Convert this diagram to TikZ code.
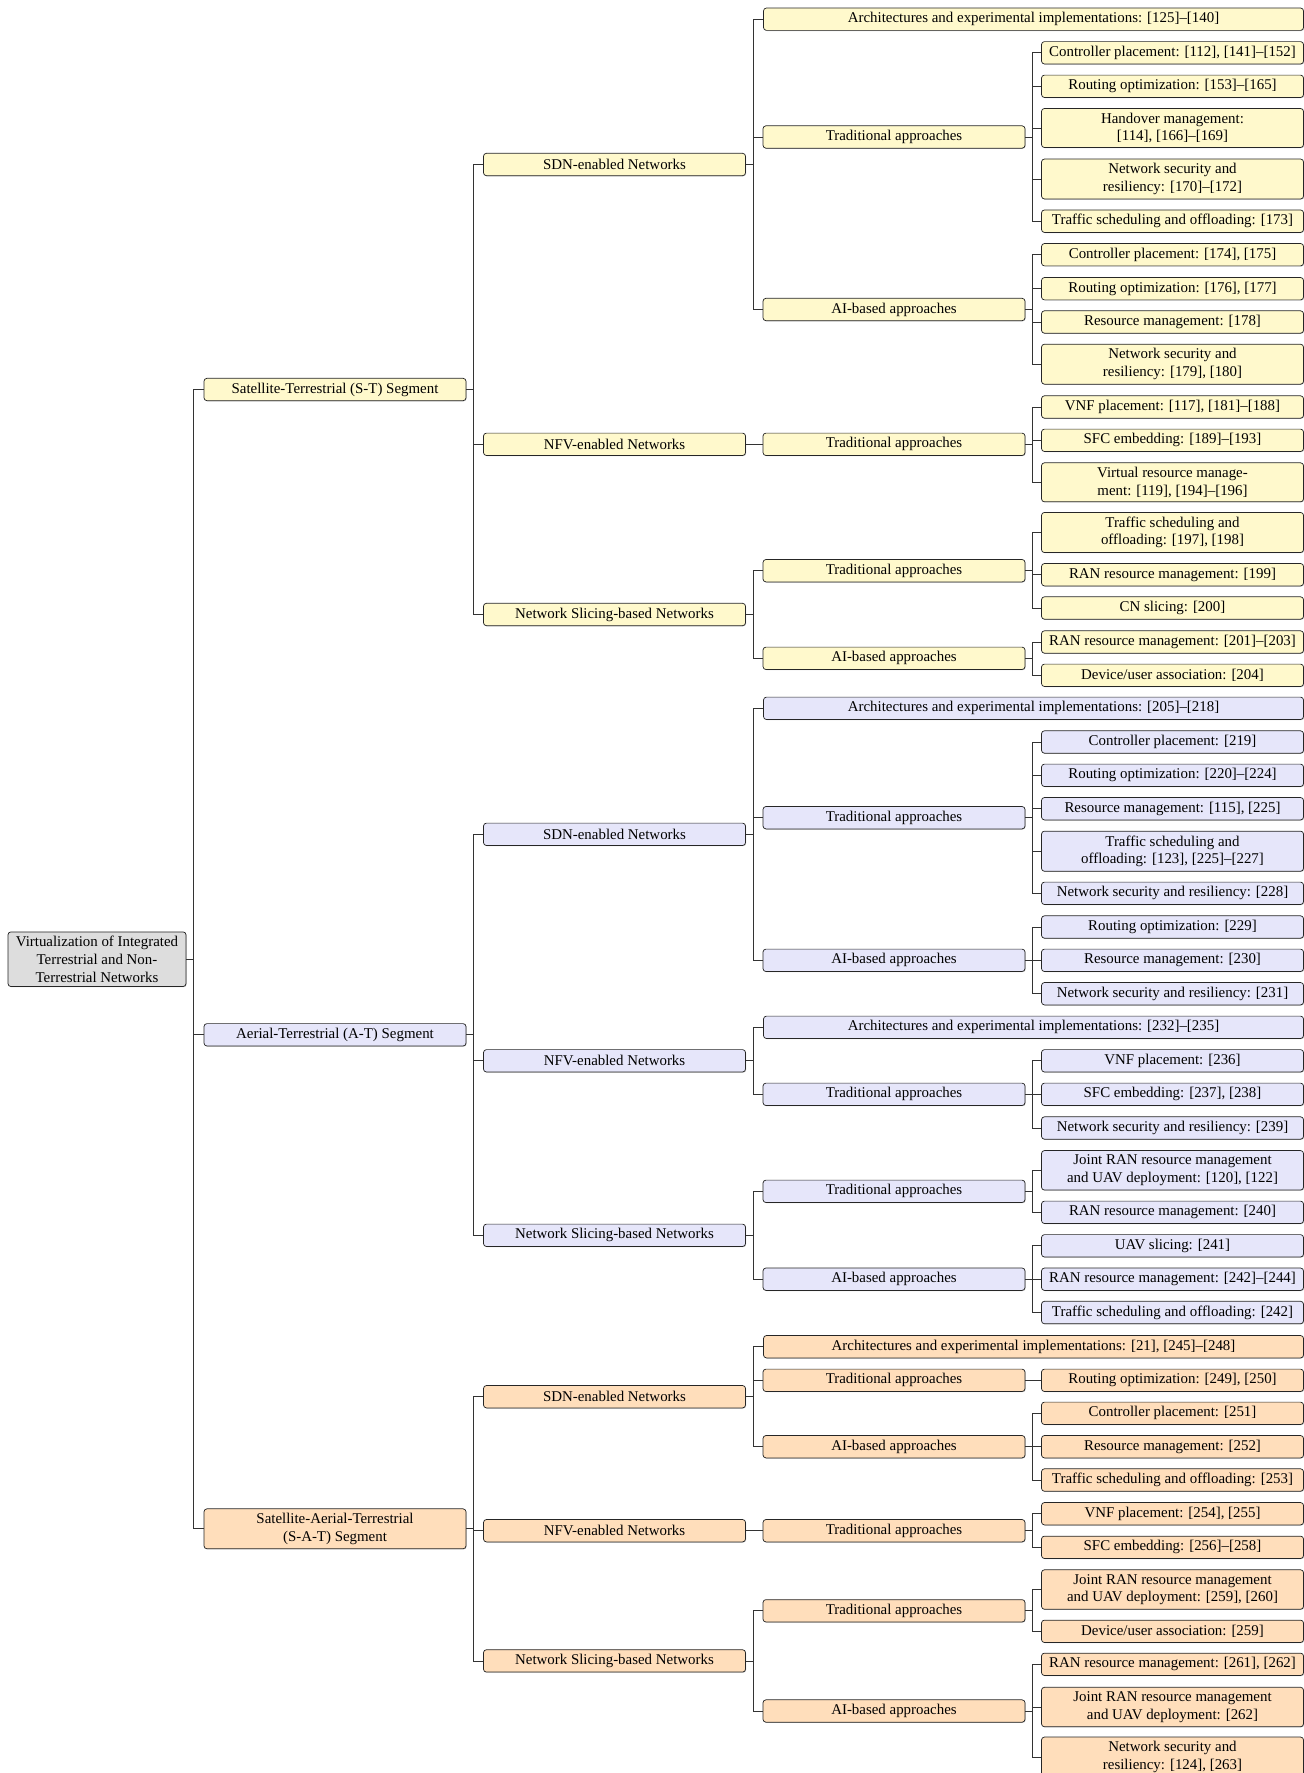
\documentclass[tikz,border=0pt]{standalone}
\usepackage{fontspec}
\setmainfont{Liberation Serif}
\usetikzlibrary{shadows}

\definecolor{rootfill}{RGB}{221,221,221}
\definecolor{stfill}{RGB}{255,249,204}
\definecolor{atfill}{RGB}{230,230,250}
\definecolor{satfill}{RGB}{255,222,187}

\begin{document}
\begin{tikzpicture}[x=0.55pt,y=-0.55pt,
    box/.style={draw=black!85,rounded corners=1.6pt,align=center,
      font=\fontsize{8.2}{9.7}\selectfont,inner xsep=2pt,inner ysep=2.4pt,
      minimum width=144.1pt,minimum height=12.3pt,
      drop shadow={shadow xshift=0.35pt,shadow yshift=-0.35pt,opacity=0.45}},
    rootbox/.style={box,fill=rootfill,minimum width=97.9pt},
    stbox/.style={box,fill=stfill},
    atbox/.style={box,fill=atfill},
    satbox/.style={box,fill=satfill},
    wide/.style={minimum width=297pt},
    link/.style={draw=black!80}]
  \useasboundingbox (0,0) rectangle (1304,1773);

  % root and segments
  \node[rootbox] (r) at (97,959.2) {Virtualization of Integrated\\Terrestrial and Non-\\Terrestrial Networks};
  \node[stbox] (st) at (335,389.5) {Satellite-Terrestrial (S-T) Segment};
  \node[atbox] (at) at (335,1034.8) {Aerial-Terrestrial (A-T) Segment};
  \node[satbox] (sat) at (335,1528.8) {Satellite-Aerial-Terrestrial\\(S-A-T) Segment};

  % S-T segment
  \node[stbox] (st-sdn) at (614.5,164.5) {SDN-enabled Networks};
  \node[stbox] (st-nfv) at (614.5,444.3) {NFV-enabled Networks};
  \node[stbox] (st-ns) at (614.5,614.5) {Network Slicing-based Networks};
  \node[stbox,wide] (st-sdn-arch) at (1033.5,19.2) {Architectures and experimental implementations: [125]--[140]};
  \node[stbox] (st-sdn-trad) at (894,137) {Traditional approaches};
  \node[stbox] (st-sdn-ai) at (894,309.5) {AI-based approaches};
  \node[stbox] (st-nfv-trad) at (894,444.3) {Traditional approaches};
  \node[stbox] (st-ns-trad) at (894,570.7) {Traditional approaches};
  \node[stbox] (st-ns-ai) at (894,658.3) {AI-based approaches};
  \node[stbox] (st-a1) at (1172.5,52.8) {Controller placement: [112], [141]--[152]};
  \node[stbox] (st-a2) at (1172.5,86.3) {Routing optimization: [153]--[165]};
  \node[stbox] (st-a3) at (1172.5,128) {Handover management:\\{}[114], [166]--[169]};
  \node[stbox] (st-a4) at (1172.5,179) {Network security and\\resiliency: [170]--[172]};
  \node[stbox] (st-a5) at (1172.5,221.2) {Traffic scheduling and offloading: [173]};
  \node[stbox] (st-b1) at (1172.5,254.7) {Controller placement: [174], [175]};
  \node[stbox] (st-b2) at (1172.5,288.7) {Routing optimization: [176], [177]};
  \node[stbox] (st-b3) at (1172.5,322) {Resource management: [178]};
  \node[stbox] (st-b4) at (1172.5,364.2) {Network security and\\resiliency: [179], [180]};
  \node[stbox] (st-c1) at (1172.5,407) {VNF placement: [117], [181]--[188]};
  \node[stbox] (st-c2) at (1172.5,440.3) {SFC embedding: [189]--[193]};
  \node[stbox] (st-c3) at (1172.5,482.3) {Virtual resource manage-\\ment: [119], [194]--[196]};
  \node[stbox] (st-d1) at (1172.5,532.5) {Traffic scheduling and\\offloading: [197], [198]};
  \node[stbox] (st-d2) at (1172.5,574.7) {RAN resource management: [199]};
  \node[stbox] (st-d3) at (1172.5,608) {CN slicing: [200]};
  \node[stbox] (st-e1) at (1172.5,642) {RAN resource management: [201]--[203]};
  \node[stbox] (st-e2) at (1172.5,675.3) {Device/user association: [204]};

  % A-T segment
  \node[atbox] (at-sdn) at (614.5,834.3) {SDN-enabled Networks};
  \node[atbox] (at-nfv) at (614.5,1060.8) {NFV-enabled Networks};
  \node[atbox] (at-ns) at (614.5,1235.3) {Network Slicing-based Networks};
  \node[atbox,wide] (at-sdn-arch) at (1033.5,708.3) {Architectures and experimental implementations: [205]--[218]};
  \node[atbox] (at-sdn-trad) at (894,817.7) {Traditional approaches};
  \node[atbox] (at-sdn-ai) at (894,960.3) {AI-based approaches};
  \node[atbox,wide] (at-nfv-arch) at (1033.5,1027.3) {Architectures and experimental implementations: [232]--[235]};
  \node[atbox] (at-nfv-trad) at (894,1094.3) {Traditional approaches};
  \node[atbox] (at-ns-trad) at (894,1191.3) {Traditional approaches};
  \node[atbox] (at-ns-ai) at (894,1279.2) {AI-based approaches};
  \node[atbox] (at-a1) at (1172.5,742) {Controller placement: [219]};
  \node[atbox] (at-a2) at (1172.5,775.3) {Routing optimization: [220]--[224]};
  \node[atbox] (at-a3) at (1172.5,808.7) {Resource management: [115], [225]};
  \node[atbox] (at-a4) at (1172.5,851.2) {Traffic scheduling and\\offloading: [123], [225]--[227]};
  \node[atbox] (at-a5) at (1172.5,893.3) {Network security and resiliency: [228]};
  \node[atbox] (at-b1) at (1172.5,927) {Routing optimization: [229]};
  \node[atbox] (at-b2) at (1172.5,960.3) {Resource management: [230]};
  \node[atbox] (at-b3) at (1172.5,993.7) {Network security and resiliency: [231]};
  \node[atbox] (at-c1) at (1172.5,1060.8) {VNF placement: [236]};
  \node[atbox] (at-c2) at (1172.5,1094.3) {SFC embedding: [237], [238]};
  \node[atbox] (at-c3) at (1172.5,1128) {Network security and resiliency: [239]};
  \node[atbox] (at-d1) at (1172.5,1170.3) {Joint RAN resource management\\and UAV deployment: [120], [122]};
  \node[atbox] (at-d2) at (1172.5,1212.3) {RAN resource management: [240]};
  \node[atbox] (at-e1) at (1172.5,1245.8) {UAV slicing: [241]};
  \node[atbox] (at-e2) at (1172.5,1279.2) {RAN resource management: [242]--[244]};
  \node[atbox] (at-e3) at (1172.5,1312.5) {Traffic scheduling and offloading: [242]};

  % S-A-T segment
  \node[satbox] (sat-sdn) at (614.5,1396.7) {SDN-enabled Networks};
  \node[satbox] (sat-nfv) at (614.5,1530.7) {NFV-enabled Networks};
  \node[satbox] (sat-ns) at (614.5,1660.9) {Network Slicing-based Networks};
  \node[satbox,wide] (sat-sdn-arch) at (1033.5,1346.7) {Architectures and experimental implementations: [21], [245]--[248]};
  \node[satbox] (sat-sdn-trad) at (894,1380.3) {Traditional approaches};
  \node[satbox] (sat-sdn-ai) at (894,1446.7) {AI-based approaches};
  \node[satbox] (sat-nfv-trad) at (894,1530.7) {Traditional approaches};
  \node[satbox] (sat-ns-trad) at (894,1610.8) {Traditional approaches};
  \node[satbox] (sat-ns-ai) at (894,1711) {AI-based approaches};
  \node[satbox] (sat-a1) at (1172.5,1380.3) {Routing optimization: [249], [250]};
  \node[satbox] (sat-b1) at (1172.5,1413.3) {Controller placement: [251]};
  \node[satbox] (sat-b2) at (1172.5,1446.7) {Resource management: [252]};
  \node[satbox] (sat-b3) at (1172.5,1480) {Traffic scheduling and offloading: [253]};
  \node[satbox] (sat-c1) at (1172.5,1513.7) {VNF placement: [254], [255]};
  \node[satbox] (sat-c2) at (1172.5,1547.3) {SFC embedding: [256]--[258]};
  \node[satbox] (sat-d1) at (1172.5,1589.5) {Joint RAN resource management\\and UAV deployment: [259], [260]};
  \node[satbox] (sat-d2) at (1172.5,1631.3) {Device/user association: [259]};
  \node[satbox] (sat-e1) at (1172.5,1664.3) {RAN resource management: [261], [262]};
  \node[satbox] (sat-e2) at (1172.5,1707) {Joint RAN resource management\\and UAV deployment: [262]};
  \node[satbox] (sat-e3) at (1172.5,1757) {Network security and\\resiliency: [124], [263]};

  % forked connectors
  \foreach \c in {st,at,sat} \draw[link] (r.east) -- ++(4pt,0) |- (\c.west);
  \foreach \s in {st,at,sat} {
    \foreach \c in {sdn,nfv,ns} \draw[link] (\s.east) -- ++(4pt,0) |- (\s-\c.west);
  }
  \foreach \c in {arch,trad,ai} \draw[link] (st-sdn.east) -- ++(4pt,0) |- (st-sdn-\c.west);
  \draw[link] (st-nfv.east) -- (st-nfv-trad.west);
  \foreach \c in {trad,ai} \draw[link] (st-ns.east) -- ++(4pt,0) |- (st-ns-\c.west);
  \foreach \c in {arch,trad,ai} \draw[link] (at-sdn.east) -- ++(4pt,0) |- (at-sdn-\c.west);
  \foreach \c in {arch,trad} \draw[link] (at-nfv.east) -- ++(4pt,0) |- (at-nfv-\c.west);
  \foreach \c in {trad,ai} \draw[link] (at-ns.east) -- ++(4pt,0) |- (at-ns-\c.west);
  \foreach \c in {arch,trad,ai} \draw[link] (sat-sdn.east) -- ++(4pt,0) |- (sat-sdn-\c.west);
  \draw[link] (sat-nfv.east) -- (sat-nfv-trad.west);
  \foreach \c in {trad,ai} \draw[link] (sat-ns.east) -- ++(4pt,0) |- (sat-ns-\c.west);

  \foreach \c in {a1,a2,a3,a4,a5} \draw[link] (st-sdn-trad.east) -- ++(4pt,0) |- (st-\c.west);
  \foreach \c in {b1,b2,b3,b4} \draw[link] (st-sdn-ai.east) -- ++(4pt,0) |- (st-\c.west);
  \foreach \c in {c1,c2,c3} \draw[link] (st-nfv-trad.east) -- ++(4pt,0) |- (st-\c.west);
  \foreach \c in {d1,d2,d3} \draw[link] (st-ns-trad.east) -- ++(4pt,0) |- (st-\c.west);
  \foreach \c in {e1,e2} \draw[link] (st-ns-ai.east) -- ++(4pt,0) |- (st-\c.west);
  \foreach \c in {a1,a2,a3,a4,a5} \draw[link] (at-sdn-trad.east) -- ++(4pt,0) |- (at-\c.west);
  \foreach \c in {b1,b2,b3} \draw[link] (at-sdn-ai.east) -- ++(4pt,0) |- (at-\c.west);
  \foreach \c in {c1,c2,c3} \draw[link] (at-nfv-trad.east) -- ++(4pt,0) |- (at-\c.west);
  \foreach \c in {d1,d2} \draw[link] (at-ns-trad.east) -- ++(4pt,0) |- (at-\c.west);
  \foreach \c in {e1,e2,e3} \draw[link] (at-ns-ai.east) -- ++(4pt,0) |- (at-\c.west);
  \draw[link] (sat-sdn-trad.east) -- (sat-a1.west);
  \foreach \c in {b1,b2,b3} \draw[link] (sat-sdn-ai.east) -- ++(4pt,0) |- (sat-\c.west);
  \foreach \c in {c1,c2} \draw[link] (sat-nfv-trad.east) -- ++(4pt,0) |- (sat-\c.west);
  \foreach \c in {d1,d2} \draw[link] (sat-ns-trad.east) -- ++(4pt,0) |- (sat-\c.west);
  \foreach \c in {e1,e2,e3} \draw[link] (sat-ns-ai.east) -- ++(4pt,0) |- (sat-\c.west);
\end{tikzpicture}
\end{document}
